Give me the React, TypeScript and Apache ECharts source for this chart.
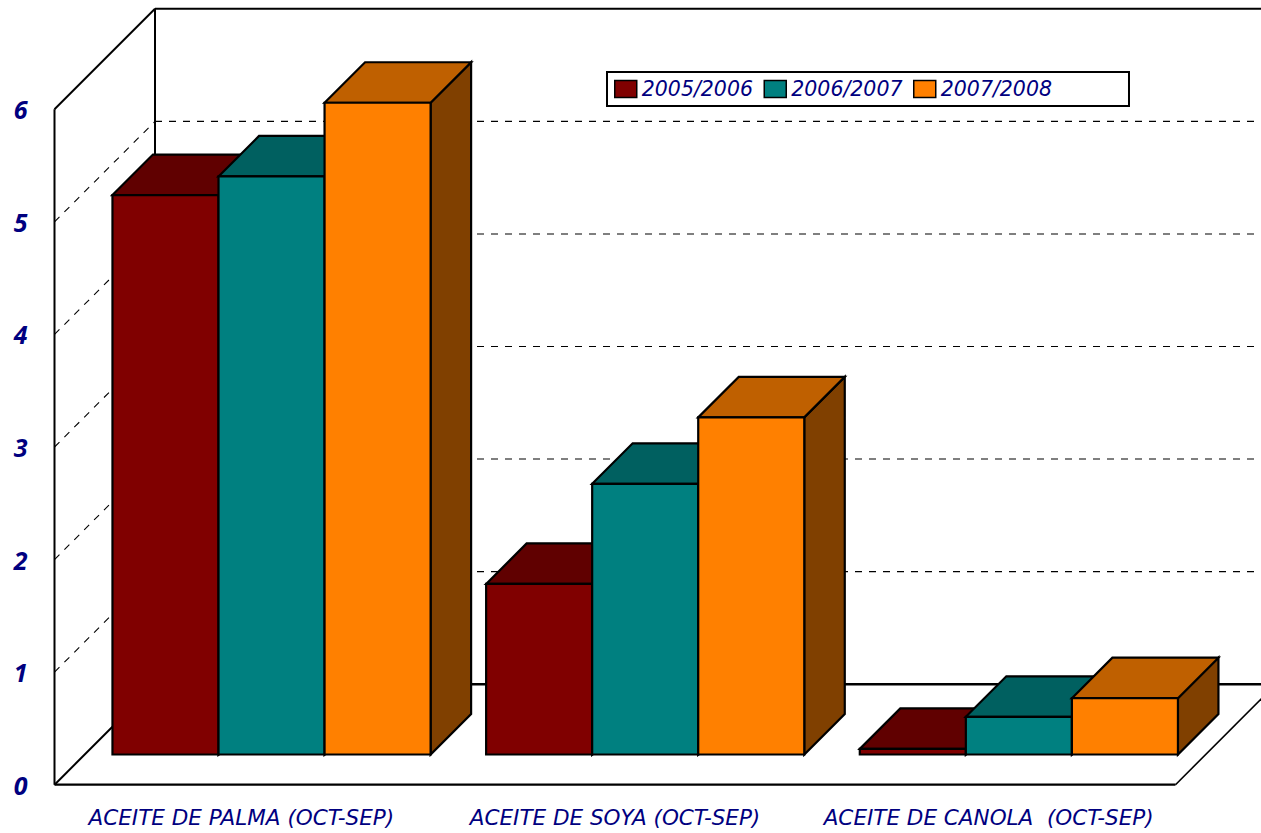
import React, { useEffect, useRef } from "react";
import * as echarts from "echarts";

const categories = ["ACEITE DE PALMA (OCT-SEP)", "ACEITE DE SOYA (OCT-SEP)", "ACEITE DE CANOLA  (OCT-SEP)"];
const seriesNames = ["2005/2006", "2006/2007", "2007/2008"];
const values2005 = [4.97, 1.515, 0.05];
const values2006 = [5.135, 2.405, 0.335];
const values2007 = [5.79, 2.995, 0.5];
const yTicks = [0, 1, 2, 3, 4, 5, 6];

const frontColors = ["#800000", "#008080", "#FF8000"];
const topColors = ["#600000", "#006060", "#BF6000"];
const sideColors = ["#400000", "#004040", "#804000"];

const WALL_DEPTH = 100.5;
const BAR_OFFSET = 30.2;
const BAR_DEPTH = 40.5;
const BAR_RATIO = 0.2838;
const LABEL_FONT = '"DejaVu Sans", sans-serif';
const TICK_FONT = '"Noto Sans", sans-serif';
const NAVY = "#000080";

function poly(points: number[][], fill: string) {
  return {
    type: "polygon",
    shape: { points },
    style: { fill, stroke: "#000", lineWidth: 2.2, lineJoin: "miter" },
  };
}

function barRenderer(idx: number) {
  return (_: any, api: any) => {
    const cat = api.value(0);
    const v = api.value(1);
    const top = api.coord([cat, v]);
    const base = api.coord([cat, 0]);
    const band = api.size([1, 0])[0];
    const w = band * BAR_RATIO;
    const x1 = top[0] + BAR_OFFSET + (idx - 1.5) * w;
    const x2 = x1 + w;
    const yT = top[1] - BAR_OFFSET;
    const yB = base[1] - BAR_OFFSET;
    const d = BAR_DEPTH;
    return {
      type: "group",
      children: [
        poly([[x2, yT], [x2 + d, yT - d], [x2 + d, yB - d], [x2, yB]], sideColors[idx]),
        poly([[x1, yT], [x1 + d, yT - d], [x2 + d, yT - d], [x2, yT]], topColors[idx]),
        poly([[x1, yT], [x2, yT], [x2, yB], [x1, yB]], frontColors[idx]),
      ],
    };
  };
}

function line(x1: number, y1: number, x2: number, y2: number, lineWidth: number, dash?: number[]) {
  return {
    type: "line",
    shape: { x1, y1, x2, y2 },
    style: { stroke: "#000", lineWidth, lineDash: dash, fill: null },
  };
}

function wallRenderer(_: any, api: any) {
  const o = api.coord([0, 0]);
  const band = api.size([1, 0])[0];
  const left = o[0] - band / 2;
  const right = left + band * categories.length;
  const bottom = o[1];
  const top = api.coord([0, yTicks[yTicks.length - 1]])[1];
  const d = WALL_DEPTH;
  return {
    type: "group",
    children: [
      line(left, top, left, bottom, 2),
      line(left, top, left + d, top - d, 2),
      line(left + d, top - d, left + d, bottom - d, 2),
      line(left + d, top - d, right + d, top - d, 2),
      line(left, bottom, left + d, bottom - d, 2),
      line(left + d, bottom - d, right + d, bottom - d, 2.6),
      line(left, bottom, right, bottom, 2.2),
      line(right, bottom, right + d, bottom - d, 1.6),
    ],
  };
}

function gridRenderer(_: any, api: any) {
  const tick = api.value(1);
  const o = api.coord([0, tick]);
  const band = api.size([1, 0])[0];
  const left = o[0] - band / 2;
  const right = left + band * categories.length;
  const y = o[1];
  const d = WALL_DEPTH;
  return {
    type: "group",
    children: [
      line(left, y, left + d, y - d, 1.1, [7, 7]),
      line(left + d, y - d, right + d, y - d, 1.1, [7, 7]),
    ],
  };
}

export default function App() {
  const ref = useRef<HTMLDivElement>(null);
  useEffect(() => {
    document.body.style.margin = "0";
    const chart = echarts.init(ref.current!, null, { renderer: "svg" });
    const allValues = [values2005, values2006, values2007];
    chart.setOption({
      animation: false,
      backgroundColor: "#fff",
      tooltip: { show: false },
      grid: { left: 54.5, top: 109.3, width: 1121, height: 675.4, containLabel: false },
      xAxis: {
        type: "category",
        data: categories,
        axisLine: { show: false },
        axisTick: { show: false },
        axisLabel: { margin: 22, fontFamily: LABEL_FONT, fontStyle: "italic", fontSize: 21.5, color: NAVY, interval: 0 },
      },
      yAxis: {
        type: "value",
        min: 0,
        max: 6,
        interval: 1,
        axisLine: { show: false },
        axisTick: { show: false },
        splitLine: { show: false },
        axisLabel: {
          margin: 27,
          fontFamily: TICK_FONT,
          fontStyle: "italic",
          fontWeight: "bold",
          fontSize: 25,
          color: NAVY,
          padding: [3, 0, 0, 0],
        },
      },
      legend: {
        data: seriesNames,
        left: 607,
        top: 72,
        orient: "horizontal",
        padding: [7, 77, 7, 7],
        itemGap: 10.5,
        itemWidth: 22,
        itemHeight: 17,
        icon: "rect",
        borderColor: "#000",
        borderWidth: 2,
        backgroundColor: "#fff",
        selectedMode: false,
        itemStyle: { borderColor: "#000", borderWidth: 1.5 },
        textStyle: { fontFamily: LABEL_FONT, fontStyle: "italic", fontSize: 20.5, color: NAVY, padding: [0, 0, 0, 0] },
      },
      series: [
        {
          type: "custom",
          name: "walls",
          z: 1,
          silent: true,
          clip: false,
          renderItem: wallRenderer,
          data: [[0, 0]],
          encode: { x: 0, y: 1 },
        },
        {
          type: "custom",
          name: "grid",
          z: 1,
          silent: true,
          clip: false,
          renderItem: gridRenderer,
          data: yTicks.slice(1, -1).map((t) => [0, t]),
          encode: { x: 0, y: 1 },
        },
        ...seriesNames.map((name, idx) => ({
          type: "custom",
          name,
          z: 2 + idx,
          silent: true,
          clip: false,
          itemStyle: { color: frontColors[idx] },
          renderItem: barRenderer(idx),
          data: allValues[idx].map((v, i) => [i, v]),
          encode: { x: 0, y: 1 },
        })),
      ],
    });
    return () => chart.dispose();
  }, []);
  return <div ref={ref} style={{ width: 1261, height: 833, overflow: "hidden" }} />;
}
